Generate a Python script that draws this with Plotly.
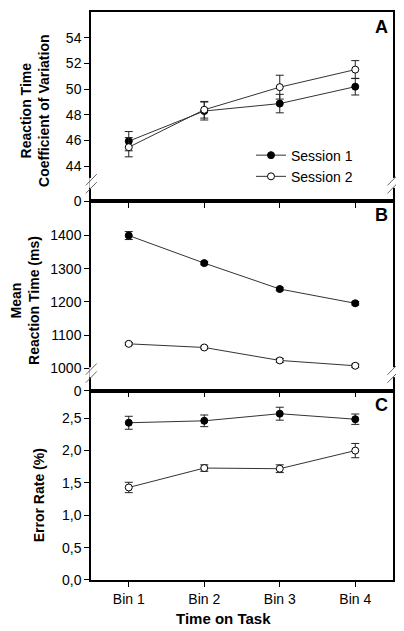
import plotly.graph_objects as go
from plotly.subplots import make_subplots

bins = ["Bin 1", "Bin 2", "Bin 3", "Bin 4"]
sessions = ["Session 1", "Session 2"]

# Panel A: Reaction time coefficient of variation
cv_s1 = [45.95, 48.3, 48.88, 50.2]
cv_s1_err = [0.75, 0.7, 0.72, 0.65]
cv_s2 = [45.48, 48.4, 50.16, 51.53]
cv_s2_err = [0.75, 0.65, 0.93, 0.7]
cv_ticks = [44, 46, 48, 50, 52, 54]
cv_range = [41.26, 56.02]

# Panel B: Mean reaction time (ms)
rt_s1 = [1400, 1317, 1239, 1196]
rt_s1_err = [12, 5, 5, 5]
rt_s2 = [1074, 1063, 1024, 1008]
rt_s2_err = [4, 4, 6, 5]
rt_ticks = [1000, 1100, 1200, 1300, 1400]
rt_range = [933, 1503]

# Panel C: Error rate (%)
er_s1 = [2.43, 2.46, 2.57, 2.485]
er_s1_err = [0.1, 0.09, 0.1, 0.08]
er_s2 = [1.43, 1.73, 1.72, 2.0]
er_s2_err = [0.08, 0.05, 0.06, 0.11]
er_ticks = [0.0, 0.5, 1.0, 1.5, 2.0, 2.5]
er_range = [0, 2.926]

FONT = "Liberation Sans, Arial, sans-serif"
LINE = "#333333"
PAGE_OFF = 8  # browser body margin

fig = make_subplots(rows=3, cols=1, vertical_spacing=0.0)

panels = [
    (1, cv_s1, cv_s1_err, cv_s2, cv_s2_err, True),
    (2, rt_s1, rt_s1_err, rt_s2, rt_s2_err, False),
    (3, er_s1, er_s1_err, er_s2, er_s2_err, False),
]
for row, s1, e1, s2, e2, show in panels:
    fig.add_trace(go.Scatter(
        x=bins, y=s1, name=sessions[0], mode="lines+markers", showlegend=show,
        line=dict(color=LINE, width=1),
        marker=dict(symbol="circle", size=7, color="black", line=dict(color="black", width=1)),
        error_y=dict(type="data", array=e1, color="#222222", thickness=1, width=4),
    ), row=row, col=1)
    fig.add_trace(go.Scatter(
        x=bins, y=s2, name=sessions[1], mode="lines+markers", showlegend=show,
        line=dict(color=LINE, width=1),
        marker=dict(symbol="circle", size=7, color="white", line=dict(color="black", width=1)),
        error_y=dict(type="data", array=e2, color="#222222", thickness=1, width=4),
    ), row=row, col=1)

axis_common = dict(showline=True, linecolor="black", linewidth=1.5, mirror=True,
                   showgrid=False, zeroline=False, ticks="outside", ticklen=5,
                   tickcolor="black", tickwidth=1,
                   tickfont=dict(family=FONT, size=14, color="black"))

domains = {1: [2 / 3, 1.0], 2: [1 / 3, 2 / 3], 3: [0.0, 1 / 3]}

fig.update_yaxes(range=cv_range, tickvals=[cv_range[0]] + cv_ticks,
                 ticktext=["0"] + [str(v) for v in cv_ticks], domain=domains[1],
                 **axis_common, row=1, col=1)
fig.update_yaxes(range=rt_range, tickvals=[rt_range[0]] + rt_ticks,
                 ticktext=["0"] + [str(v) for v in rt_ticks], domain=domains[2],
                 **axis_common, row=2, col=1)
fig.update_yaxes(range=er_range, tickvals=er_ticks,
                 ticktext=[f"{v:.1f}".replace(".", ",") for v in er_ticks], domain=domains[3],
                 **axis_common, row=3, col=1)

for r in (1, 2, 3):
    fig.update_xaxes(type="category", range=[-0.5, 3.5], showticklabels=(r == 3),
                     **axis_common, row=r, col=1)

# geometry helpers (plot area in page pixels: x 91..393, y 10..580)
def px_x(p):
    return (p - 91) / 302.0

def px_y(p):
    return (580 - p) / 570.0

shapes = []
for off in (0, 190):
    for ax_x in (91.3, 393.0):
        shapes.append(dict(type="line", xref="paper", yref="paper",
                           x0=px_x(ax_x), x1=px_x(ax_x), y0=px_y(176.5 + off), y1=px_y(186.5 + off),
                           line=dict(color="white", width=4), layer="above"))
        for dy in (0, 8):
            shapes.append(dict(type="line", xref="paper", yref="paper",
                               x0=px_x(ax_x - 5.5), y0=px_y(184 + dy + off),
                               x1=px_x(ax_x + 5.5), y1=px_y(172.7 + dy + off),
                               line=dict(color="#666666", width=1), layer="above"))

annotations = []
for letter, py in (("A", 25), ("B", 214), ("C", 404)):
    annotations.append(dict(text=letter, xref="paper", yref="paper", x=px_x(390), y=px_y(py),
                            xanchor="right", yanchor="middle", showarrow=False,
                            font=dict(family=FONT, size=18, color="black", weight="bold")))

titles = [
    ("Reaction Time<br>Coefficient of Variation", 34.3, 109),
    ("Mean<br>Reaction Time (ms)", 25, 300),
    ("Error Rate (%)", 39, 495),
]
for txt, cx, cy in titles:
    annotations.append(dict(text=txt, xref="paper", yref="paper", x=px_x(cx), y=px_y(cy),
                            xanchor="center", yanchor="middle", textangle=-90, showarrow=False,
                            font=dict(family=FONT, size=14, color="black", weight="bold")))

annotations.append(dict(text="Time on Task", xref="paper", yref="paper", x=px_x(223), y=px_y(619),
                        xanchor="center", yanchor="middle", showarrow=False,
                        font=dict(family=FONT, size=15, color="black", weight="bold")))

fig.update_layout(
    width=404 - PAGE_OFF, height=631 - PAGE_OFF,
    margin=dict(l=91 - PAGE_OFF, r=11, t=10 - PAGE_OFF, b=51),
    plot_bgcolor="white", paper_bgcolor="white",
    shapes=shapes, annotations=annotations,
    legend=dict(x=px_x(251), y=px_y(138), xanchor="left", yanchor="top",
                bgcolor="rgba(0,0,0,0)", font=dict(family=FONT, size=14, color="black"),
                tracegroupgap=0, itemwidth=30),
)

fig.write_html("out.html")
